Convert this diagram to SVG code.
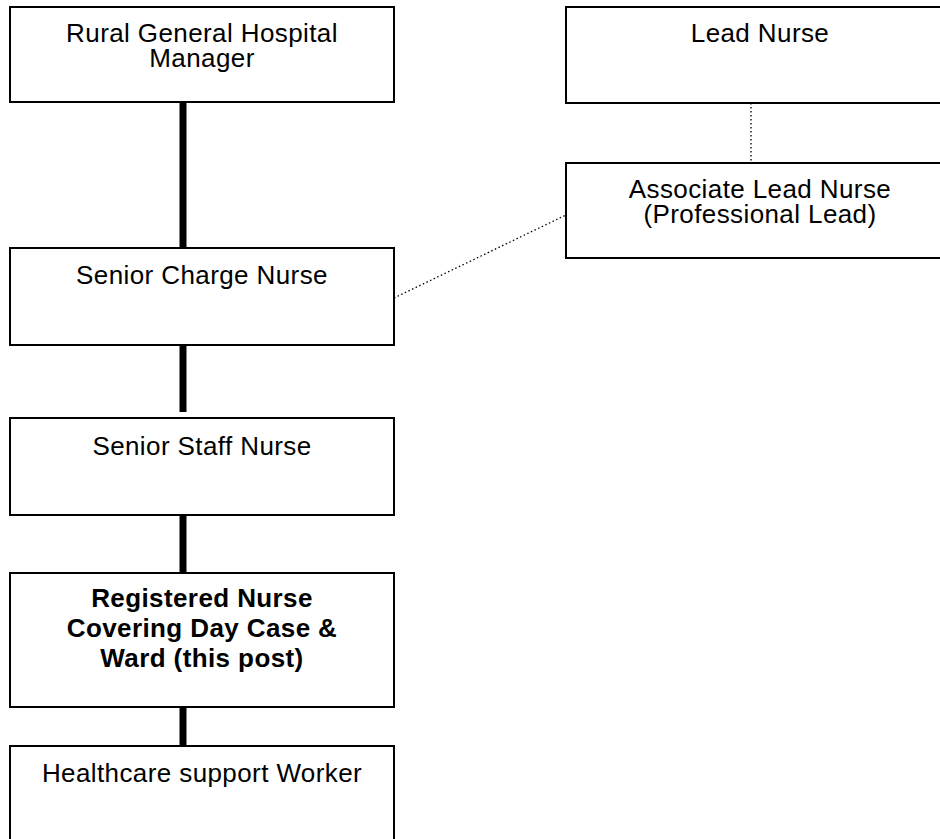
<svg xmlns="http://www.w3.org/2000/svg" width="940" height="839" viewBox="0 0 940 839">
<style>
.box{fill:#fff;stroke:#000;stroke-width:2}
.t{font-family:"Liberation Sans",Arial,sans-serif;font-size:26px;letter-spacing:0.4px;text-anchor:middle;fill:#000}
.b{font-weight:bold}
.solid{stroke:#000;stroke-width:7;fill:none}
.dot{stroke:#000;stroke-width:1.3;stroke-dasharray:1.5 2.5;fill:none}
</style>
<rect width="940" height="839" fill="#fff"/>
<g id="connectors">
<line class="solid" x1="183" y1="102" x2="183" y2="247"/>
<line class="solid" x1="183" y1="345" x2="183" y2="412"/>
<line class="solid" x1="183" y1="515" x2="183" y2="573"/>
<line class="solid" x1="183" y1="707" x2="183" y2="746"/>
<line class="dot" x1="751" y1="103" x2="751" y2="162"/>
<line class="dot" x1="394" y1="298" x2="566" y2="215"/>
</g>
<g id="n1"><rect class="box" x="10" y="7" width="384" height="95"/>
<text class="t" x="202" y="42">Rural General Hospital</text><text class="t" x="202" y="67">Manager</text></g>
<g id="n2"><rect class="box" x="566" y="7" width="390" height="96"/>
<text class="t" x="760" y="42">Lead Nurse</text></g>
<g id="n3"><rect class="box" x="566" y="163" width="390" height="95"/>
<text class="t" x="760" y="198">Associate Lead Nurse</text><text class="t" x="760" y="223">(Professional Lead)</text></g>
<g id="n4"><rect class="box" x="10" y="248" width="384" height="97"/>
<text class="t" x="202" y="284">Senior Charge Nurse</text></g>
<g id="n5"><rect class="box" x="10" y="418" width="384" height="97"/>
<text class="t" x="202" y="455">Senior Staff Nurse</text></g>
<g id="n6"><rect class="box" x="10" y="573" width="384" height="134"/>
<text class="t b" x="202" y="607">Registered Nurse</text><text class="t b" x="202" y="637">Covering Day Case &amp;</text><text class="t b" x="202" y="667">Ward (this post)</text></g>
<g id="n7"><rect class="box" x="10" y="746" width="384" height="110"/>
<text class="t" x="202" y="782">Healthcare support Worker</text></g>
</svg>
